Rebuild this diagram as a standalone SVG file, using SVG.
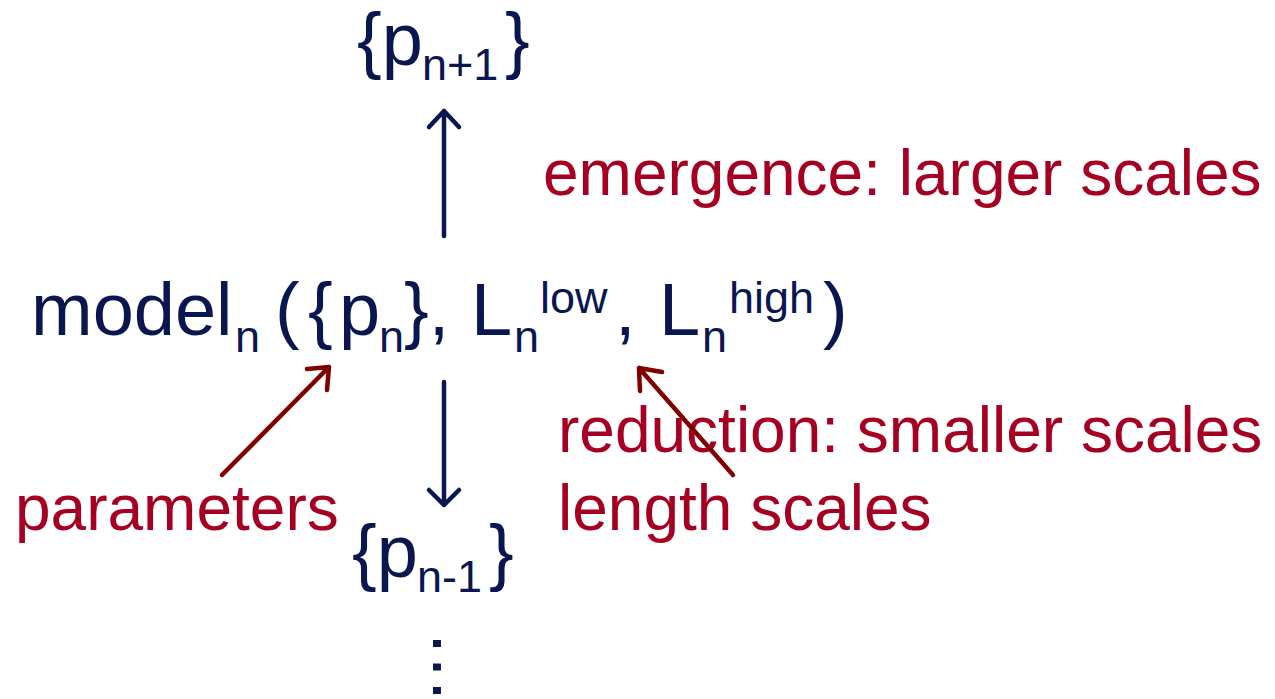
<svg xmlns="http://www.w3.org/2000/svg" width="1275" height="699" viewBox="0 0 1275 699">
<style>
.navy{fill:#0a1650;font-family:"Liberation Sans",Arial,sans-serif;font-size:74px}
.red{fill:#a50021;font-family:"Liberation Sans",Arial,sans-serif;font-size:64px}
.s{font-size:45px}
.nl{stroke:#0a1650;stroke-width:4.5;fill:none;stroke-linecap:round;stroke-linejoin:round}
.rl{stroke:#800000;stroke-width:4.5;fill:none;stroke-linecap:round;stroke-linejoin:round}
</style>
<rect width="1275" height="699" fill="#ffffff"/>
<g id="p-next"><text class="navy" x="357" y="65">{p<tspan class="s" x="422" dy="15">n+1</tspan><tspan x="505" dy="-15">}</tspan></text></g>
<g id="model"><text class="navy" x="31" y="335">model<tspan class="s" x="235" dy="17">n</tspan><tspan x="275" dy="-17">(</tspan><tspan x="308">{</tspan><tspan x="339">p</tspan><tspan class="s" x="379" dy="17">n</tspan><tspan x="404" dy="-17">},</tspan><tspan x="471">L</tspan><tspan class="s" x="514" dy="17">n</tspan><tspan class="s" x="540" dy="-39">low</tspan><tspan x="615" dy="22">,</tspan><tspan x="659">L</tspan><tspan class="s" x="702" dy="17">n</tspan><tspan class="s" x="729" dy="-39">high</tspan><tspan x="823" dy="22">)</tspan></text></g>
<g id="p-prev"><text class="navy" x="352" y="577">{p<tspan class="s" x="417" dy="15">n-1</tspan><tspan x="489" dy="-15">}</tspan></text></g>
<g id="dots"><text class="navy" text-anchor="middle" transform="translate(437,642) rotate(90)" x="25" y="3.7">…</text></g>
<g id="label-emergence"><text class="red" x="543" y="195">emergence: larger scales</text></g>
<g id="label-reduction"><text class="red" x="558" y="452">reduction: smaller scales</text></g>
<g id="label-length"><text class="red" x="558" y="530">length scales</text></g>
<g id="label-parameters"><text class="red" x="15" y="530">parameters</text></g>
<g id="connectors">
<path class="nl" d="M444 236V111M429 127L444 111L459 127"/>
<path class="nl" d="M444 382V505M429 490L444 505L459 490"/>
<path class="rl" d="M222 475L329 367M307 369L329 367L327 390"/>
<path class="rl" d="M733 475L639 368M640 391L639 368L662 372"/>
</g>
</svg>
